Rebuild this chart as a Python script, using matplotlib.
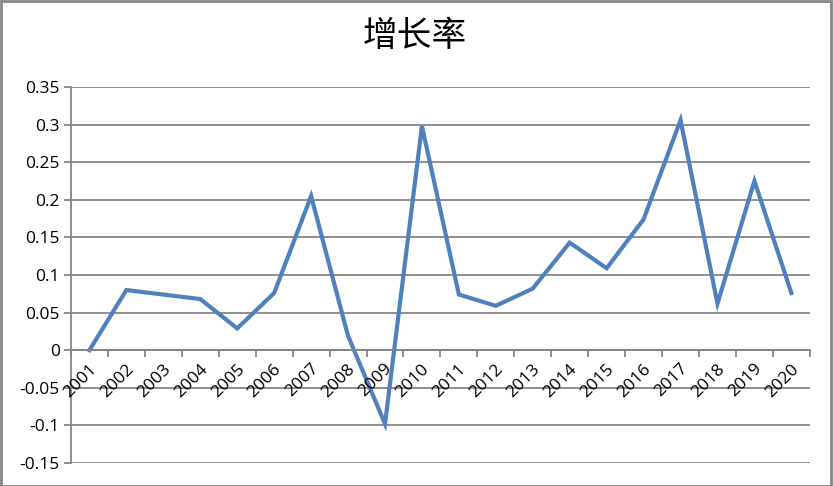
import matplotlib
matplotlib.use('Agg')
import matplotlib.pyplot as plt
from matplotlib.patches import Rectangle

years = [str(y) for y in range(2001, 2021)]
growth = [0.0, 0.080, 0.074, 0.068, 0.029, 0.076, 0.205, 0.019, -0.098, 0.298,
          0.074, 0.059, 0.082, 0.143, 0.109, 0.174, 0.306, 0.062, 0.225, 0.076]
yticks = [-0.15, -0.1, -0.05, 0, 0.05, 0.1, 0.15, 0.2, 0.25, 0.3, 0.35]
ytick_labels = ['-0.15', '-0.1', '-0.05', '0', '0.05', '0.1', '0.15', '0.2', '0.25', '0.3', '0.35']

plt.rcParams['font.family'] = ['Open Sans', 'DejaVu Sans']
grid_c = '#868686'

fig = plt.figure(figsize=(8.33, 4.86), dpi=100)
# 外框
fig.patches.append(Rectangle((0.001, 0.001), 0.997, 0.996, transform=fig.transFigure,
                             fill=False, edgecolor=grid_c, linewidth=2))
ax = fig.add_axes([0.0852, 0.0473, 0.887, 0.7737])

x = [i + 0.5 for i in range(len(years))]
ax.plot(x, growth, color='#4F81BD', linewidth=3.0, solid_joinstyle='miter')

ax.set_xlim(0, len(years))
ax.set_ylim(-0.15, 0.35)
ax.set_yticks(yticks)
ax.set_yticklabels(ytick_labels, fontsize=12.5)
ax.yaxis.grid(True, color=grid_c, linewidth=1.3)
ax.set_axisbelow(True)

# x轴在0的位置，刻度在分类边界
ax.spines['bottom'].set_position(('data', 0))
for s in ['top', 'right']:
    ax.spines[s].set_visible(False)
ax.spines['left'].set_color(grid_c)
ax.spines['left'].set_linewidth(1.3)
ax.spines['bottom'].set_color(grid_c)
ax.spines['bottom'].set_linewidth(1.3)
ax.set_xticks(range(len(years) + 1))
ax.set_xticklabels([])
ax.tick_params(axis='x', length=5, width=1.3, color=grid_c, direction='out')
ax.tick_params(axis='y', length=5, width=1.3, color=grid_c, direction='out', pad=3)

for xi, label in zip(x, years):
    ax.text(xi - 0.02, -0.014, label, rotation=45, ha='right', va='top',
            rotation_mode='anchor', fontsize=12.5)

fig.text(0.498, 0.925, '增长率', ha='center', va='center', fontsize=25,
         family=['Noto Sans CJK SC', 'DejaVu Sans'])

fig.savefig('out.png', dpi=100)
